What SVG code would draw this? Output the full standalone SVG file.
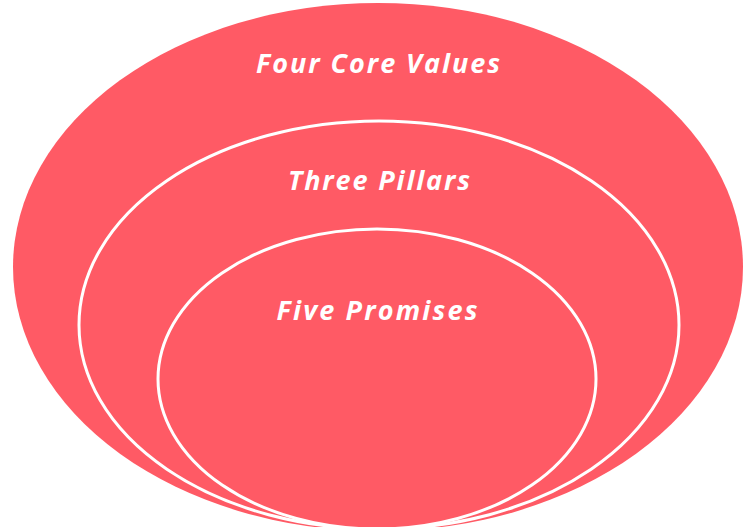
<svg xmlns="http://www.w3.org/2000/svg" width="747" height="527" viewBox="0 0 747 527">
<style>
.fill{fill:#FF5A65}
.ring{fill:#FF5A65;stroke:#FFFFFF;stroke-width:3}
.lbl{font-family:"Open Sans","Lato",sans-serif;font-weight:bold;font-style:italic;font-size:27px;fill:#FFFFFF;text-anchor:middle}
</style>
<rect width="747" height="527" fill="#FFFFFF"/>
<g id="outer">
<ellipse class="fill" cx="378" cy="267" rx="365" ry="264"/>
<text class="lbl" x="378" y="73" textLength="244">Four Core Values</text>
</g>
<g id="middle">
<ellipse class="ring" cx="379" cy="325" rx="300" ry="204"/>
<text class="lbl" x="379" y="190" textLength="182">Three Pillars</text>
</g>
<g id="inner">
<ellipse class="ring" cx="377" cy="379" rx="219" ry="150"/>
<text class="lbl" x="377" y="320" textLength="201">Five Promises</text>
</g>
<g id="connectors"></g>
</svg>
